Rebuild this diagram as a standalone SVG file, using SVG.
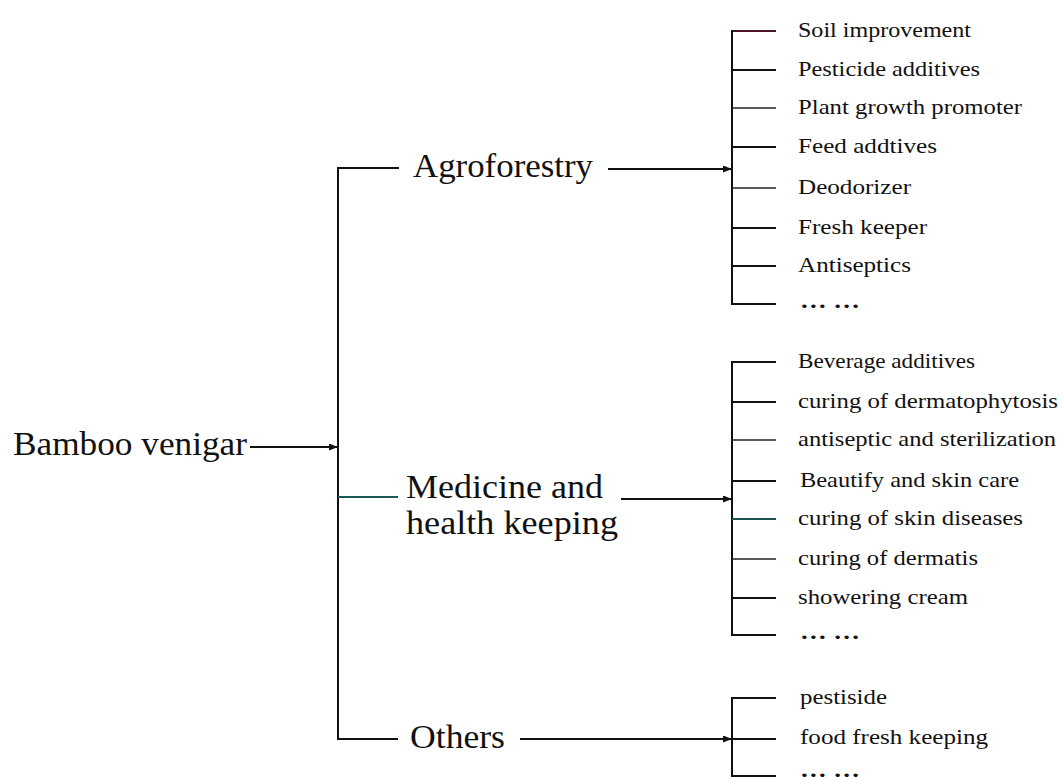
<svg xmlns="http://www.w3.org/2000/svg" width="1063" height="777" viewBox="0 0 1063 777">
<defs>
<style>
text{font-family:'Liberation Serif',serif;fill:#111;}
.big{font-size:34px;}
.item{font-size:21px;}
.dots{font-size:21px;font-weight:bold;}
.ln{stroke:#111;stroke-width:2;fill:none;}
.thin{stroke:#222;stroke-width:1.5;fill:none;}
</style>
<marker id="ah" markerUnits="userSpaceOnUse" markerWidth="10" markerHeight="8" refX="9" refY="3.5" orient="auto">
<path d="M0,0 L9,3.5 L0,7 z" fill="#111"/>
</marker>
</defs>
<rect width="1063" height="777" fill="#fff"/>

<g id="connectors">
<line class="ln" x1="250" y1="447" x2="338" y2="447" marker-end="url(#ah)"/>
<path class="ln" d="M399,168 H338 V739 H398"/>
<line x1="338" y1="497" x2="398" y2="497" stroke="#1d5757" stroke-width="2"/>
<line class="ln" x1="608" y1="169" x2="732" y2="169" marker-end="url(#ah)"/>
<line class="ln" x1="621" y1="499" x2="732" y2="499" marker-end="url(#ah)"/>
<line class="ln" x1="520" y1="739" x2="732" y2="739" marker-end="url(#ah)"/>
<path class="ln" d="M776,31 H732 V304 H776"/>
<line x1="733" y1="31" x2="776" y2="31" stroke="#4a1424" stroke-width="2"/>
<line class="ln" x1="732" y1="70" x2="776" y2="70"/>
<line class="thin" x1="732" y1="108" x2="776" y2="108"/>
<line class="ln" x1="732" y1="147" x2="776" y2="147"/>
<line class="thin" x1="732" y1="188" x2="776" y2="188"/>
<line class="ln" x1="732" y1="228" x2="776" y2="228"/>
<line class="ln" x1="732" y1="266" x2="776" y2="266"/>
<path class="ln" d="M776,362 H732 V635 H776"/>
<line class="ln" x1="732" y1="402" x2="776" y2="402"/>
<line class="thin" x1="732" y1="440" x2="776" y2="440"/>
<line class="ln" x1="732" y1="481" x2="776" y2="481"/>
<line x1="732" y1="519" x2="776" y2="519" stroke="#1d4f4f" stroke-width="2"/>
<line class="thin" x1="732" y1="559" x2="776" y2="559"/>
<line class="ln" x1="732" y1="598" x2="776" y2="598"/>
<path class="ln" d="M776,698 H732 V776 H776"/>
<line class="ln" x1="732" y1="739" x2="776" y2="739"/>
</g>

<g font-family="Liberation Serif, serif">
<g id="root">
<text class="big" x="13" y="455" textLength="234" lengthAdjust="spacingAndGlyphs">Bamboo venigar</text>
</g>

<g id="agroforestry">
<text class="big" x="413" y="177" textLength="180" lengthAdjust="spacingAndGlyphs">Agroforestry</text>
</g>

<g id="medicine">
<text class="big" x="406" y="498" textLength="197" lengthAdjust="spacingAndGlyphs">Medicine and</text>
<text class="big" x="406" y="534" textLength="212" lengthAdjust="spacingAndGlyphs">health keeping</text>
</g>

<g id="others">
<text class="big" x="410" y="748" textLength="95" lengthAdjust="spacingAndGlyphs">Others</text>
</g>

<g id="agro-items">
<text class="item" x="798" y="37" textLength="173" lengthAdjust="spacingAndGlyphs">Soil improvement</text>
<text class="item" x="798" y="76" textLength="182" lengthAdjust="spacingAndGlyphs">Pesticide additives</text>
<text class="item" x="798" y="114" textLength="224" lengthAdjust="spacingAndGlyphs">Plant growth promoter</text>
<text class="item" x="798" y="153" textLength="139" lengthAdjust="spacingAndGlyphs">Feed addtives</text>
<text class="item" x="798" y="194" textLength="113" lengthAdjust="spacingAndGlyphs">Deodorizer</text>
<text class="item" x="798" y="234" textLength="129" lengthAdjust="spacingAndGlyphs">Fresh keeper</text>
<text class="item" x="798" y="272" textLength="113" lengthAdjust="spacingAndGlyphs">Antiseptics</text>
<text class="dots" x="800" y="308" textLength="60" lengthAdjust="spacingAndGlyphs">… …</text>
</g>

<g id="medicine-items">
<text class="item" x="798" y="368" textLength="177" lengthAdjust="spacingAndGlyphs">Beverage additives</text>
<text class="item" x="798" y="408" textLength="260" lengthAdjust="spacingAndGlyphs">curing of dermatophytosis</text>
<text class="item" x="798" y="446" textLength="258" lengthAdjust="spacingAndGlyphs">antiseptic and sterilization</text>
<text class="item" x="800" y="487" textLength="219" lengthAdjust="spacingAndGlyphs">Beautify and skin care</text>
<text class="item" x="798" y="525" textLength="225" lengthAdjust="spacingAndGlyphs">curing of skin diseases</text>
<text class="item" x="798" y="565" textLength="180" lengthAdjust="spacingAndGlyphs">curing of dermatis</text>
<text class="item" x="798" y="604" textLength="170" lengthAdjust="spacingAndGlyphs">showering cream</text>
<text class="dots" x="800" y="639" textLength="60" lengthAdjust="spacingAndGlyphs">… …</text>
</g>

<g id="others-items">
<text class="item" x="800" y="704" textLength="87" lengthAdjust="spacingAndGlyphs">pestiside</text>
<text class="item" x="800" y="744" textLength="188" lengthAdjust="spacingAndGlyphs">food fresh keeping</text>
<text class="dots" x="800" y="777" textLength="60" lengthAdjust="spacingAndGlyphs">… …</text>
</g>
</g>
</svg>
